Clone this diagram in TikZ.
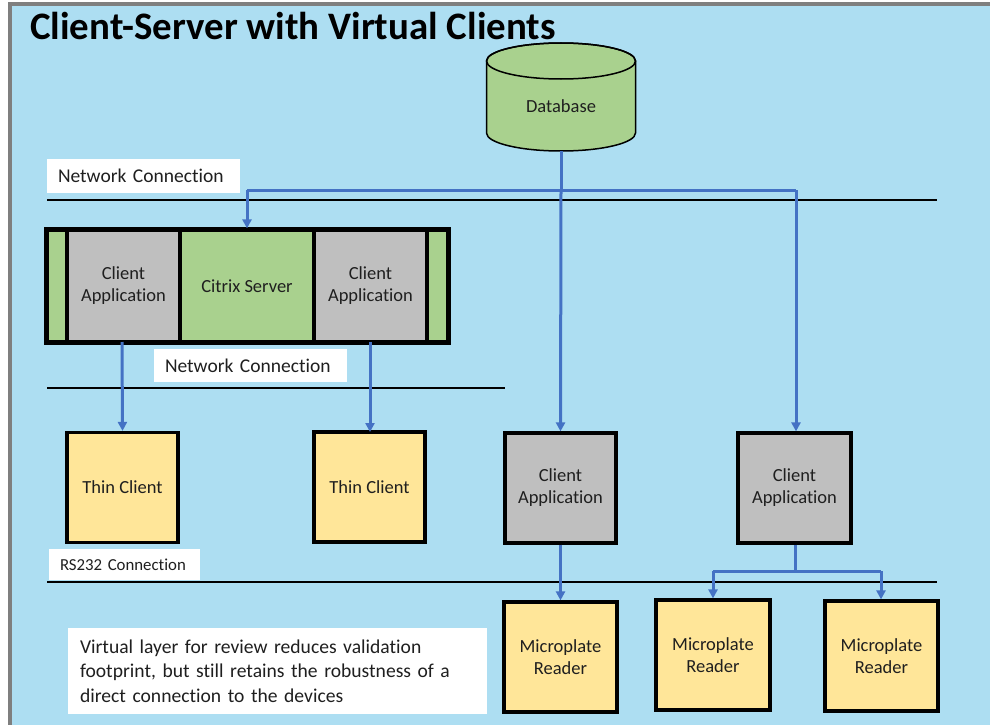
\documentclass[tikz,border=0pt]{standalone}
\usepackage{fontspec}
\setmainfont[Ligatures={NoCommon}]{Carlito}
\usetikzlibrary{arrows.meta}
\definecolor{bgblue}{HTML}{ADDEF2}
\definecolor{lnblue}{HTML}{4472C4}
\definecolor{boxgreen}{HTML}{A9D18E}
\definecolor{boxgray}{HTML}{BFBFBF}
\definecolor{boxyellow}{HTML}{FFE699}
\definecolor{frame}{HTML}{7F7F7F}
\tikzset{
  box/.style={draw=black, line width=3.2pt, minimum width=#1, inner sep=0pt, align=center, font=\fontsize{18.5}{22}\selectfont, text=black!88},
  appbox/.style={box=111pt, fill=boxgray, minimum height=110pt},
  thinbox/.style={box=111pt, fill=boxyellow, minimum height=110pt},
  lbl/.style={fill=white, inner sep=0pt, font=\fontsize{19.5}{23}\selectfont, text=black!88},
  conn/.style={draw=lnblue, line width=3pt, -{Triangle[length=9pt,width=9pt]}},
  plain/.style={draw=lnblue, line width=3pt},
  sep/.style={draw=black, line width=1.4pt}
}
\begin{document}
\begin{tikzpicture}[x=1pt,y=-1pt]
\useasboundingbox (0,0) rectangle (990,725);
\fill[white] (0,0) rectangle (990,725);
\fill[frame] (8,2) rectangle (990,725);
\fill[bgblue] (12,6) rectangle (990,725);
% title
\node[anchor=base west, inner sep=0pt, font=\bfseries\fontsize{38.9}{44}\selectfont] (title) at (30,40) {Client-Server with Virtual Clients};
% database cylinder
\filldraw[fill=boxgreen, draw=black, line width=1.5pt] (486.5,61) -- (486.5,133) arc[start angle=180, end angle=0, x radius=74.5, y radius=18] -- (635.5,61) arc[start angle=0, end angle=-180, x radius=74.5, y radius=18] -- cycle;
\draw[black, line width=1.5pt] (561,61) ellipse[x radius=74.5, y radius=18];
\node[font=\fontsize{18.5}{22}\selectfont, text=black!88] (db) at (561,106) {Database};
\coordinate (dbbot) at (561,151);
% separators
\draw[sep] (47,200) coordinate (s1a) -- (937,200) coordinate (s1b);
\draw[sep] (47,388) coordinate (s2a) -- (505,388) coordinate (s2b);
\draw[sep] (47,582) coordinate (s3a) -- (937,582) coordinate (s3b);
% labels
\node[lbl, minimum width=193pt, minimum height=34pt, text width=171pt, align=left] (nc1) at (143.5,176) {Network Connection};
\node[lbl, minimum width=193pt, minimum height=33pt, text width=171pt, align=left] (nc2) at (250.5,365.5) {Network Connection};
\node[lbl, minimum width=151pt, minimum height=31pt, text width=129pt, align=left, font=\fontsize{16.8}{20}\selectfont] (rs) at (124.5,564.5) {RS232 Connection};
\node[lbl, minimum width=419pt, minimum height=86pt, text width=395pt, align=left, font=\fontsize{19.6}{24.3}\selectfont] (note) at (277.5,671) {Virtual layer for review reduces validation\\footprint, but still retains the robustness of a\\direct connection to the devices};
% citrix composite
\node[box=401pt, fill=boxgreen, minimum height=112pt] (outer) at (247.5,286) {};
\node[box=113pt, fill=boxgray, minimum height=112pt] (ca1) at (123.5,286) {Client\\Application};
\node[box=134pt, fill=boxgreen, minimum height=112pt] (citrix) at (247,286) {Citrix Server};
\node[box=113pt, fill=boxgray, minimum height=112pt] (ca2) at (370.5,286) {Client\\Application};
\draw[draw=black, line width=3.2pt] (outer.north west) rectangle (outer.south east);
% thin clients
\node[thinbox] (tc1) at (122.5,487.5) {Thin Client};
\node[thinbox] (tc2) at (369.5,487) {Thin Client};
% client apps
\node[appbox] (ca3) at (560.5,488) {Client\\Application};
\node[appbox, minimum width=113pt] (ca4) at (794.5,488) {Client\\Application};
% microplate readers
\node[thinbox, minimum width=113pt] (mr1) at (560.5,657) {Microplate\\Reader};
\node[thinbox, minimum width=114pt] (mr2) at (713,655) {Microplate\\Reader};
\node[thinbox, minimum width=113pt] (mr3) at (881.5,656) {Microplate\\Reader};
% connectors
\coordinate (j) at (561,190);
\coordinate (jl) at (247,190);
\coordinate (jr) at (796,190);
\draw[plain] (dbbot) -- (j);
\draw[plain] (jl) -- (jr);
\draw[conn] (jl) -- (citrix.north);
\draw[conn] (j) -- (ca3.north);
\draw[conn] (jr) -- (jr |- ca4.north);
\draw[conn] (122,342) -- (tc1.north);
\draw[conn] (370,342) -- (370,432);
\draw[conn] (ca3.south) -- (mr1.north);
\coordinate (k) at (795,571);
\coordinate (kl) at (713,571);
\coordinate (kr) at (881,571);
\draw[plain] (ca4.south -| k) -- (k);
\draw[plain] (kl) -- (kr);
\draw[conn] (kl) -- (mr2.north);
\draw[conn] (kr) -- (kr |- mr3.north);
\end{tikzpicture}
\end{document}
